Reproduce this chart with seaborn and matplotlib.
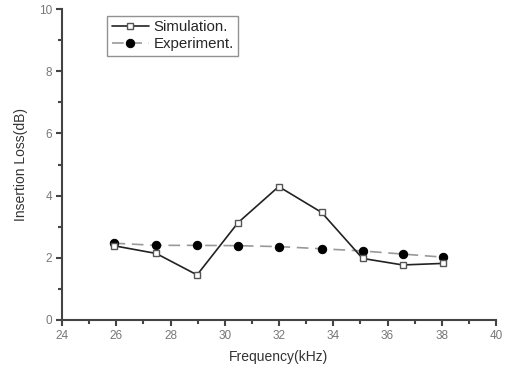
import matplotlib
matplotlib.use("Agg")
import matplotlib.pyplot as plt
import seaborn as sns
import pandas as pd
from matplotlib.ticker import MultipleLocator

sns.set_style("white")
plt.rcParams['font.family'] = ['Liberation Sans', 'DejaVu Sans']

sim_freq = [25.9, 27.47, 28.98, 30.49, 31.99, 33.57, 35.08, 36.56, 38.06]
sim_loss = [2.39, 2.14, 1.45, 3.13, 4.29, 3.46, 1.98, 1.77, 1.82]
exp_freq = [25.9, 27.47, 28.98, 30.49, 31.99, 33.57, 35.08, 36.56, 38.06]
exp_loss = [2.47, 2.40, 2.40, 2.39, 2.36, 2.29, 2.22, 2.12, 2.02]

sim = pd.DataFrame({"f": sim_freq, "il": sim_loss})
exp = pd.DataFrame({"f": exp_freq, "il": exp_loss})

fig = plt.figure(figsize=(5.1, 3.72), dpi=100)
ax = fig.add_axes([62/510, 52/372, 434/510, 311/372])

sns.lineplot(data=sim, x="f", y="il", ax=ax, color="#222222", lw=1.2,
             marker="s", markersize=5, markerfacecolor="white",
             markeredgecolor="#555555", markeredgewidth=1.0,
             label="Simulation.", zorder=3)
sns.lineplot(data=exp, x="f", y="il", ax=ax, color="#999999", lw=1.2,
             dashes=(7, 4), marker="o", markersize=6, markerfacecolor="black",
             markeredgecolor="black", label="Experiment.", zorder=2)

ax.set_xlim(24, 40)
ax.set_ylim(0, 10)
ax.xaxis.set_major_locator(MultipleLocator(2))
ax.xaxis.set_minor_locator(MultipleLocator(1))
ax.yaxis.set_major_locator(MultipleLocator(2))
ax.yaxis.set_minor_locator(MultipleLocator(1))

for s in ["top", "right"]:
    ax.spines[s].set_visible(False)
for s in ["left", "bottom"]:
    ax.spines[s].set_color("#444444")
    ax.spines[s].set_linewidth(1.5)

ax.tick_params(which="major", direction="out", length=4, width=1.5,
               color="#444444", labelsize=8.5, labelcolor="#777777",
               bottom=True, left=True, pad=3)
ax.tick_params(which="minor", direction="out", length=3, width=1.5,
               color="#444444", bottom=True, left=True)

ax.set_xlabel("Frequency(kHz)", fontsize=10, color="#333333", labelpad=6)
ax.set_ylabel("Insertion Loss(dB)", fontsize=10, color="#333333", labelpad=8)

leg = ax.legend(loc="upper left", bbox_to_anchor=(0.104, 0.978), frameon=True,
                fancybox=False, edgecolor="#777777", fontsize=10.8,
                handlelength=2.5, handletextpad=0.3, borderpad=0.3,
                labelspacing=0.2, borderaxespad=0)
leg.get_frame().set_linewidth(1.0)

fig.savefig("out.png", dpi=100)
